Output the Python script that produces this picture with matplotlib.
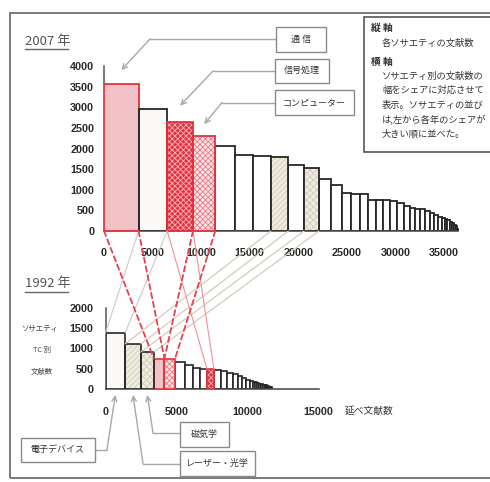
import matplotlib
matplotlib.use("Agg")
import matplotlib.pyplot as plt
from matplotlib.patches import Rectangle, ConnectionPatch
from matplotlib.lines import Line2D
from matplotlib.transforms import offset_copy

# ---------------- data ----------------
# Paper counts per society, sorted by share; bar width and height are both the count
counts_2007 = [3560, 2950, 2650, 2300, 2060, 1840, 1820, 1800, 1610, 1530,
               1270, 1110, 910, 900, 900, 760, 750, 740, 720, 680,
               600, 560, 540, 530, 490, 440, 380, 350, 320, 290,
               260, 230, 190, 150, 110, 80, 50, 30]
counts_1992 = [1380, 1110, 910, 750, 750, 665, 580, 525, 485, 485,
               460, 455, 400, 380, 310, 280, 230, 200, 180, 160,
               150, 130, 120, 110, 100, 90, 80, 70, 60, 50,
               40, 30, 20, 15, 10]

xticks_2007 = [0, 5000, 10000, 15000, 20000, 25000, 30000, 35000]
yticks_2007 = [0, 500, 1000, 1500, 2000, 2500, 3000, 3500, 4000]
xticks_1992 = [0, 5000, 10000, 15000]
yticks_1992 = [0, 500, 1000, 1500, 2000]

# Highlighted societies and their rank position in each year
societies = ["通信", "電子デバイス", "信号処理", "コンピューター", "レーザー・光学", "磁気学"]
rank_2007 = [0, 1, 2, 3, 7, 9]
rank_1992 = [3, 0, 9, 4, 1, 2]

legend_lines = ["各ソサエティの文献数",
                "ソサエティ別の文献数の",
                "幅をシェアに対応させて",
                "表示。ソサエティの並び",
                "は,左から各年のシェアが",
                "大きい順に並べた。"]

# ---------------- styles ----------------
RED = "#e5303d"
DARK = "#262626"
STYLE = {
    "通信":        dict(face="#f2c4c9", hatch="||||||", hcol="#efbcc2", edge=RED),
    "電子デバイス": dict(face="#faf9f5", hatch=None,     hcol="#faf9f5", edge=DARK),
    "信号処理":     dict(face="#e6323f", hatch="xxxxxx", hcol="#f5b4b9", edge=RED),
    "コンピューター": dict(face="#fde6e8", hatch="xxxxxx", hcol="#ef7680", edge=RED),
    "レーザー・光学": dict(face="#edeade", hatch="//////", hcol="#d3ccb6", edge=DARK),
    "磁気学":       dict(face="#efece1", hatch="xxxxx",  hcol="#d3ccb6", edge=DARK),
}

W, H, DPI = 490, 482, 100
plt.rcParams["font.family"] = ["Noto Sans CJK JP", "DejaVu Sans"]
plt.rcParams["hatch.linewidth"] = 0.6

fig = plt.figure(figsize=(W / DPI, H / DPI), dpi=DPI, facecolor="white")


def fx(x):
    return x / W


def fy(y):
    return 1 - y / H


def lefts(vals):
    out, acc = [], 0
    for v in vals:
        out.append(acc)
        acc += v
    return out


def draw_bars(ax, vals, ranks, lw):
    xs = lefts(vals)
    special = {r: s for s, r in zip(societies, ranks)}
    # plain bars
    for i, (x, v) in enumerate(zip(xs, vals)):
        if i in special:
            continue
        ax.bar(x, v, width=v, align="edge", facecolor="white",
               edgecolor=DARK, linewidth=lw, zorder=2)
    # highlighted bars on top
    for i, name in special.items():
        st = STYLE[name]
        x, v = xs[i], vals[i]
        ax.bar(x, v, width=v, align="edge", facecolor=st["face"],
               edgecolor=st["hcol"], hatch=st["hatch"], linewidth=0, zorder=3)
        ax.bar(x, v, width=v, align="edge", fill=False,
               edgecolor=st["edge"], linewidth=lw, zorder=4)
    return xs


def style_axes(ax, xticks, yticks, xpad, ypad):
    for s in ("top", "right"):
        ax.spines[s].set_visible(False)
    ax.spines["left"].set_color("#555555")
    ax.spines["left"].set_linewidth(1.1)
    ax.spines["bottom"].set_color("#444444")
    ax.spines["bottom"].set_linewidth(1.1)
    ax.set_xticks(xticks)
    ax.set_yticks(yticks)
    ax.set_xticklabels([str(t) for t in xticks])
    ax.set_yticklabels([str(t) for t in yticks])
    ax.tick_params(axis="x", length=0, pad=xpad)
    ax.tick_params(axis="y", length=0, pad=ypad)
    for lab in ax.get_xticklabels() + ax.get_yticklabels():
        lab.set_family(["Liberation Sans", "DejaVu Sans"])
        lab.set_fontweight("bold")
        lab.set_fontsize(7.8)
        lab.set_color("#2b2b2b")
    ax.patch.set_alpha(0)


# ---------------- 2007 panel ----------------
ax1 = fig.add_axes([fx(104), fy(231), 359.4 / W, 165 / H])
ax1.set_xlim(0, 37000)
ax1.set_ylim(0, 4000)
x07 = draw_bars(ax1, counts_2007, rank_2007, 1.3)
style_axes(ax1, xticks_2007, yticks_2007, 12, 7)
ax1.spines["bottom"].set_bounds(0, sum(counts_2007))

# ---------------- 1992 panel ----------------
ax2 = fig.add_axes([fx(105.5), fy(389), 213 / W, 81.3 / H])
ax2.set_xlim(0, 15000)
ax2.set_ylim(0, 2000)
x92 = draw_bars(ax2, counts_1992, rank_1992, 1.2)
style_axes(ax2, xticks_1992, yticks_1992, 13, 8.5)

# ---------------- links between the two years ----------------
def link(name, color, ls, lw):
    i7 = rank_2007[societies.index(name)]
    i9 = rank_1992[societies.index(name)]
    for e7, e9 in ((x07[i7], x92[i9]),
                   (x07[i7] + counts_2007[i7], x92[i9] + counts_1992[i9])):
        con = ConnectionPatch(xyA=(e7, 0), coordsA=ax1.transData,
                              xyB=(e9, counts_1992[i9]), coordsB=ax2.transData,
                              color=color, linestyle=ls, linewidth=lw, zorder=1)
        fig.add_artist(con)


link("電子デバイス", "#cfcabd", "-", 0.8)
link("レーザー・光学", "#d2ccbb", "-", 0.9)
link("磁気学", "#d2ccbb", "-", 0.9)
link("信号処理", "#f19097", "-", 0.8)
link("通信", "#e8404c", (0, (3, 2)), 1.3)
link("コンピューター", "#e8404c", (0, (3, 2)), 1.3)

# ---------------- year titles ----------------
for label, yc, yu in (("2007 年", 41.7, 49.3), ("1992 年", 283.3, 291.7)):
    fig.text(fx(25), fy(yc), label, fontsize=9.5, color="#555555",
             va="center", ha="left")
    fig.add_artist(Line2D([fx(25), fx(68)], [fy(yu), fy(yu)],
                          transform=fig.transFigure, color="#666666", lw=1))

# ---------------- axis captions ----------------
for txt, xc, yc in (("ソサエティ", 40, 329.3), ("TC 別", 42, 350), ("文献数", 42, 371.7)):
    fig.text(fx(xc), fy(yc), txt, fontsize=5.3, color="#444444",
             ha="center", va="center")
fig.text(fx(345), fy(411), "延べ文献数", fontsize=7, color="#333333",
         ha="left", va="center")


# ---------------- callout boxes ----------------
def box(text, x0, y0, x1, y1, size=6.5):
    fig.add_artist(Rectangle((fx(x0), fy(y1)), (x1 - x0) / W, (y1 - y0) / H,
                             transform=fig.transFigure, facecolor="white",
                             edgecolor="#8a8a8a", linewidth=1, zorder=5))
    fig.text(fx((x0 + x1) / 2), fy((y0 + y1) / 2), text, fontsize=size,
             color="#333333", ha="center", va="center", zorder=6)


def leader(ax, name, vals, ranks, start, knee, dy, top=True):
    i = ranks[societies.index(name)]
    cx = lefts(vals)[i] + vals[i] / 2
    cy = vals[i] if top else 0
    trans = offset_copy(ax.transData, fig=fig, x=0, y=dy, units="dots")
    fig.add_artist(Line2D([fx(start[0]), fx(knee[0])], [fy(start[1]), fy(knee[1])],
                          transform=fig.transFigure, color="#a8a8a8", lw=1))
    ax.annotate("", xy=(cx, cy), xycoords=trans,
                xytext=(fx(knee[0]), fy(knee[1])), textcoords="figure fraction",
                arrowprops=dict(arrowstyle="->", color="#a8a8a8", lw=1,
                                shrinkA=0, shrinkB=0, mutation_scale=9),
                annotation_clip=False)


box("通 信", 276, 27, 326, 52)
box("信号処理", 275, 59, 329, 82.5)
box("コンピューター", 275, 90, 354, 115)
leader(ax1, "通信", counts_2007, rank_2007, (276, 39), (150, 39), 14)
leader(ax1, "信号処理", counts_2007, rank_2007, (275, 71), (213, 71), 16)
leader(ax1, "コンピューター", counts_2007, rank_2007, (275, 102.5), (222, 102.5), 12)

box("電子デバイス", 20.5, 438, 94.5, 461.5)
box("磁気学", 180, 422, 229, 446.5)
box("レーザー・光学", 180, 451, 254.5, 475.5)
leader(ax2, "電子デバイス", counts_1992, rank_1992, (94.5, 449.5), (107, 449.5), -6, top=False)
leader(ax2, "磁気学", counts_1992, rank_1992, (180, 433), (153, 433), -6, top=False)
leader(ax2, "レーザー・光学", counts_1992, rank_1992, (180, 463.5), (143, 463.5), -6, top=False)

# ---------------- explanation panel ----------------
fig.add_artist(Rectangle((fx(363.5), fy(152)), 140 / W, 135 / H,
                         transform=fig.transFigure, facecolor="white",
                         edgecolor="#555555", linewidth=1.2, zorder=5))
fig.text(fx(371), fy(28), "縦 軸", fontsize=7, fontweight="bold",
         color="#333333", va="center", zorder=6)
fig.text(fx(371), fy(61.7), "横 軸", fontsize=7, fontweight="bold",
         color="#333333", va="center", zorder=6)
for txt, yc in zip(legend_lines, (43, 76.7, 90.7, 105.3, 119.3, 134.3)):
    fig.text(fx(382), fy(yc), txt, fontsize=6.7, color="#333333",
             va="center", ha="left", zorder=6)

# ---------------- outer frame ----------------
fig.add_artist(Rectangle((fx(9.5), fy(478)), 500 / W, 465 / H,
                         transform=fig.transFigure, fill=False,
                         edgecolor="#707070", linewidth=1.3, zorder=7))

fig.savefig("out.png", dpi=DPI, facecolor="white")
